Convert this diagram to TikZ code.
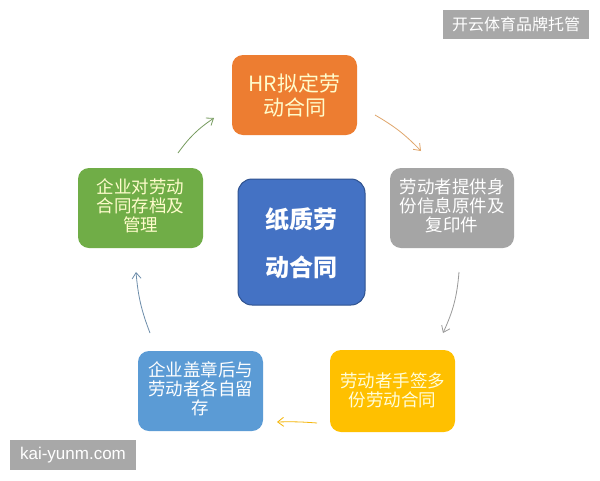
\documentclass[tikz,border=0pt]{standalone}
\usepackage{fontspec}
\setmainfont{Noto Sans CJK SC}
\newfontfamily\cjk{Noto Sans CJK SC}
\newfontfamily\latin{Liberation Sans}
\usetikzlibrary{arrows.meta}
\definecolor{corange}{HTML}{ED7D31}
\definecolor{cgreen}{HTML}{70AD47}
\definecolor{cgray}{HTML}{A5A5A5}
\definecolor{cyellow}{HTML}{FFC000}
\definecolor{clblue}{HTML}{5B9BD5}
\definecolor{cblue}{HTML}{4472C4}
\definecolor{cblueedge}{HTML}{2F528F}
\definecolor{wmgray}{HTML}{A8A8A8}
\tikzset{
  box/.style={rounded corners=11pt, inner sep=2pt, align=center,
    font=\cjk\fontsize{17.5}{19}\selectfont},
  flow/.style={line width=0.8pt, -{Straight Barb[length=6pt,width=9pt]}},
  wm/.style={fill=wmgray, text=white, inner sep=0pt}
}
\begin{document}
\begin{tikzpicture}[x=1pt,y=-1pt]
\useasboundingbox (0,0) rectangle (600,480);
\fill[white] (0,0) rectangle (600,480);
% boxes
\fill[corange, rounded corners=11pt] (232,55) rectangle (357,135);
\node[box, text=yellow!20, font=\cjk\fontsize{21}{24}\selectfont] (hr) at (294.5,95) {HR拟定劳\\动合同};
\fill[cgray, rounded corners=11pt] (390,168) rectangle (514,248);
\node[box, text=white] (prov) at (452,206) {劳动者提供身\\份信息原件及\\复印件};
\fill[cyellow, rounded corners=11pt] (330,350) rectangle (455,432);
\node[box, text=yellow!15] (sign) at (392.5,390) {劳动者手签多\\份劳动合同};
\fill[clblue, rounded corners=11pt] (138,351) rectangle (263,431);
\node[box, text=white] (seal) at (200.5,389) {企业盖章后与\\劳动者各自留\\存};
\fill[cgreen, rounded corners=11pt] (78,168) rectangle (203,248);
\node[box, text=yellow!20] (keep) at (140.5,206) {企业对劳动\\合同存档及\\管理};
\draw[cblueedge, fill=cblue, line width=1pt, rounded corners=14pt] (238,179) rectangle (365,305);
\node[box, text=white, font=\cjk\bfseries\fontsize{24}{48}\selectfont] (center) at (301.5,243) {纸质劳\\动合同};
% connectors
\coordinate (a1s) at (178,153); \coordinate (a1e) at (214,118);
\coordinate (a2s) at (375,115); \coordinate (a2e) at (421,151);
\coordinate (a3s) at (459,272); \coordinate (a3e) at (443,333);
\coordinate (a4s) at (317,423); \coordinate (a4e) at (277,422);
\coordinate (a5s) at (150,333); \coordinate (a5e) at (136,272);
\draw[flow, color=cgreen!60!gray] (a1s) to[bend left=10] (a1e);
\draw[flow, color=brown!70!orange!70] (a2s) to[bend left=8] (a2e);
\draw[flow, color=gray!80] (a3s) to[bend left=10] (a3e);
\draw[flow, color=cyellow!85!brown] (a4s) to[bend right=3] (a4e);
\draw[flow, color=clblue!50!gray] (a5s) to[bend left=8] (a5e);
% watermarks
\node[wm, minimum width=146pt, minimum height=29pt, font=\cjk\fontsize{16}{16}\selectfont] (wm1) at (516,24.5) {开云体育品牌托管};
\node[wm, minimum width=126pt, minimum height=30pt, font=\latin\fontsize{17}{17}\selectfont] (wm2) at (73,455) {kai-yunm.com};
\end{tikzpicture}
\end{document}
